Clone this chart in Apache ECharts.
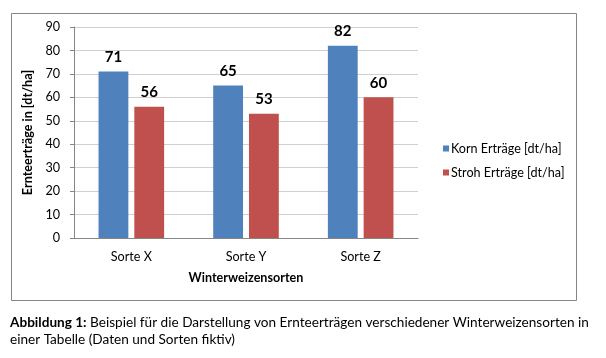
<!DOCTYPE html>
<html><head><meta charset="utf-8">
<script src="https://cdn.jsdelivr.net/npm/echarts@6/dist/echarts.min.js"></script>
<style>html,body{margin:0;padding:0;background:#fff}#c{width:606px;height:358px}</style>
</head><body><div id="c"></div>
<script>
const categories = ['Sorte X', 'Sorte Y', 'Sorte Z'];
const kornValues = [71, 65, 82];
const strohValues = [56, 53, 60];
const seriesNames = ['Korn Erträge [dt/ha]', 'Stroh Erträge [dt/ha]'];
const yTicks = [0, 10, 20, 30, 40, 50, 60, 70, 80, 90];
const yAxisTitle = 'Ernteerträge in [dt/ha]';
const xAxisTitle = 'Winterweizensorten';
const captionBold = 'Abbildung 1:';
const captionLine1 = 'Beispiel für die Darstellung von Ernteerträgen verschiedener Winterweizensorten in';
const captionLine2 = 'einer Tabelle (Daten und Sorten fiktiv)';

const FONT = 'Lato, "Open Sans", sans-serif';
const chart = echarts.init(document.getElementById('c'), null, {renderer: 'canvas'});
const labelCfg = {show: true, position: 'top', distance: 7, fontFamily: FONT, fontWeight: 'bold', fontSize: 15, color: '#000'};
chart.setOption({
  animation: false,
  textStyle: {fontFamily: FONT},
  graphic: [
    {type: 'rect', shape: {x: 11.5, y: 13.5, width: 565, height: 287}, style: {fill: 'none', stroke: '#868686', lineWidth: 1}, z: -1},
  ],
  title: {
    left: 10, top: 314, padding: 0,
    text: '{b|' + captionBold + '} ' + captionLine1 + '\n' + captionLine2,
    textStyle: {fontFamily: FONT, fontSize: 13.6, fontWeight: 'normal', color: '#000', lineHeight: 17,
      rich: {b: {fontFamily: FONT, fontSize: 13.6, fontWeight: 'bold', color: '#000', lineHeight: 17}}}
  },
  legend: {
    orient: 'vertical', left: 438, top: 137, itemWidth: 6, itemHeight: 6, itemGap: 11, icon: 'rect',
    textStyle: {fontFamily: FONT, fontSize: 12.6, color: '#000', padding: [0, 0, 0, -3]},
    data: seriesNames
  },
  grid: {left: 74, right: 188, top: 27, bottom: 120, containLabel: false},
  xAxis: {
    type: 'category', data: categories,
    name: xAxisTitle, nameLocation: 'middle', nameGap: 33,
    nameTextStyle: {fontFamily: FONT, fontWeight: 'bold', fontSize: 12.6, color: '#000'},
    axisLine: {lineStyle: {color: '#868686'}},
    axisTick: {show: false},
    axisLabel: {fontFamily: FONT, fontSize: 12.6, color: '#000', margin: 12}
  },
  yAxis: {
    type: 'value', min: 0, max: 90, interval: 10,
    name: yAxisTitle, nameLocation: 'middle', nameGap: 39, nameRotate: 90,
    nameTextStyle: {fontFamily: FONT, fontWeight: 'bold', fontSize: 12.6, color: '#000'},
    axisLine: {show: true, lineStyle: {color: '#868686'}},
    axisTick: {show: true, length: 4, lineStyle: {color: '#868686'}},
    splitLine: {lineStyle: {color: '#d0d0d0'}},
    axisLabel: {fontFamily: FONT, fontSize: 12.6, color: '#000', margin: 14,
      formatter: v => yTicks.includes(v) ? String(v) : ''}
  },
  series: [
    {name: seriesNames[0], type: 'bar', data: kornValues, barWidth: '26%', barGap: '20%',
      itemStyle: {color: '#4F81BD'}, label: labelCfg},
    {name: seriesNames[1], type: 'bar', data: strohValues, barWidth: '26%',
      itemStyle: {color: '#C0504D'}, label: labelCfg}
  ]
});
</script></body></html>
